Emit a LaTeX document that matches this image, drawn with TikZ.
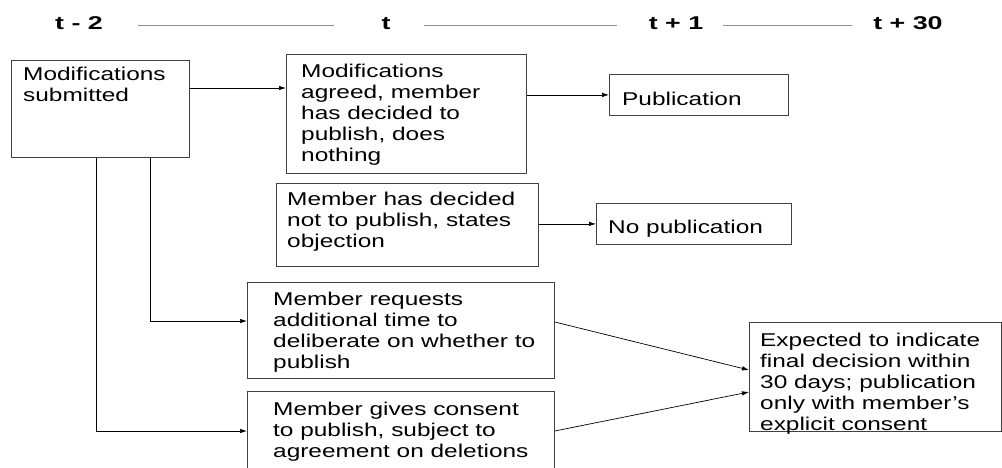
\documentclass[tikz,border=0pt]{standalone}
\usepackage{fontspec}
\setmainfont{Liberation Sans}[FakeStretch=1.32]
\newfontfamily\headfont{Liberation Sans}[FakeStretch=1.45]
\usetikzlibrary{arrows.meta}

\begin{document}
\begin{tikzpicture}[
		x=1pt, y=-1pt,
		arrow/.style={-{Latex[length=7pt, width=4.5pt]}, line width=0.7pt},
		block/.style={draw=black!75, line width=0.8pt, anchor=north west, inner sep=0pt},
		txt/.style={anchor=north west, align=left, inner sep=0pt, font=\fontsize{18.5pt}{21pt}\selectfont},
		head/.style={anchor=base, inner sep=0pt, font=\headfont\bfseries\fontsize{18.5pt}{21pt}\selectfont},
		rule/.style={draw=black!45, line width=0.6pt},
	]
	\useasboundingbox (0,0) rectangle (1002,467);

	\node (tm2) at (79,29) [head] {t - 2};
	\node (t0) at (386,29) [head] {t};
	\node (t1) at (676,29) [head] {t + 1};
	\node (t30) at (908,29) [head] {t + 30};
	\draw[rule] ([xshift=35pt, yshift=4pt]tm2.base east) -- ([xshift=-47pt, yshift=4pt]t0.base west);
	\draw[rule] ([xshift=33pt, yshift=4pt]t0.base east) -- ([xshift=-32pt, yshift=4pt]t1.base west);
	\draw[rule] ([xshift=20pt, yshift=4pt]t1.base east) -- ([xshift=-21pt, yshift=4pt]t30.base west);

	\node (sub) at (11,60) [block, minimum width=178pt, minimum height=97pt] {};
	\node (sub-t) at ([shift={(12pt,-7pt)}]sub.north west) [txt] {Modifications\\submitted};

	\node (agr) at (286,54) [block, minimum width=240pt, minimum height=119pt] {};
	\node (agr-t) at ([shift={(15pt,-10pt)}]agr.north west) [txt] {Modifications\\agreed, member\\has decided to\\publish, does\\nothing};

	\node (pub) at (609,74) [block, minimum width=179pt, minimum height=41pt] {};
	\node (pub-t) at ([shift={(13pt,-18pt)}]pub.north west) [txt] {Publication};

	\node (dec) at (276,183) [block, minimum width=262pt, minimum height=83pt] {};
	\node (dec-t) at ([shift={(11pt,-9pt)}]dec.north west) [txt] {Member has decided\\not to publish, states\\objection};

	\node (nopub) at (596,203) [block, minimum width=195pt, minimum height=41pt] {};
	\node (nopub-t) at ([shift={(12pt,-17pt)}]nopub.north west) [txt] {No publication};

	\node (req) at (247,282) [block, minimum width=307pt, minimum height=96pt] {};
	\node (req-t) at ([shift={(26pt,-10pt)}]req.north west) [txt] {Member requests\\additional time to\\deliberate on whether to\\publish};

	\node (con) at (247,391) [block, minimum width=307pt, minimum height=90pt] {};
	\node (con-t) at ([shift={(26pt,-11pt)}]con.north west) [txt] {Member gives consent\\to publish, subject to\\agreement on deletions};

	\node (exp) at (749,322) [block, minimum width=252pt, minimum height=109pt] {};
	\node (exp-t) at ([shift={(11pt,-11pt)}]exp.north west) [txt] {Expected to indicate\\final decision within\\30 days; publication\\only with member’s\\explicit consent};

	\draw[arrow] ([yshift=-28pt]sub.north east) coordinate (s1) -- (s1 -| agr.west);
	\draw[arrow] (agr.east |- pub.west) -- (pub.west);
	\draw[arrow] (dec.east |- nopub.west) -- (nopub.west);
	\draw[arrow] ([xshift=50pt]sub.south) |- ([yshift=-39pt]req.north west);
	\draw[arrow] ([xshift=-4pt]sub.south) |- ([yshift=-40pt]con.north west);
	\draw[arrow] ([yshift=-40pt]req.north east) -- ([yshift=-48pt]exp.north west);
	\draw[arrow] ([yshift=-40pt]con.north east) -- ([yshift=-70pt]exp.north west);
\end{tikzpicture}
\end{document}
